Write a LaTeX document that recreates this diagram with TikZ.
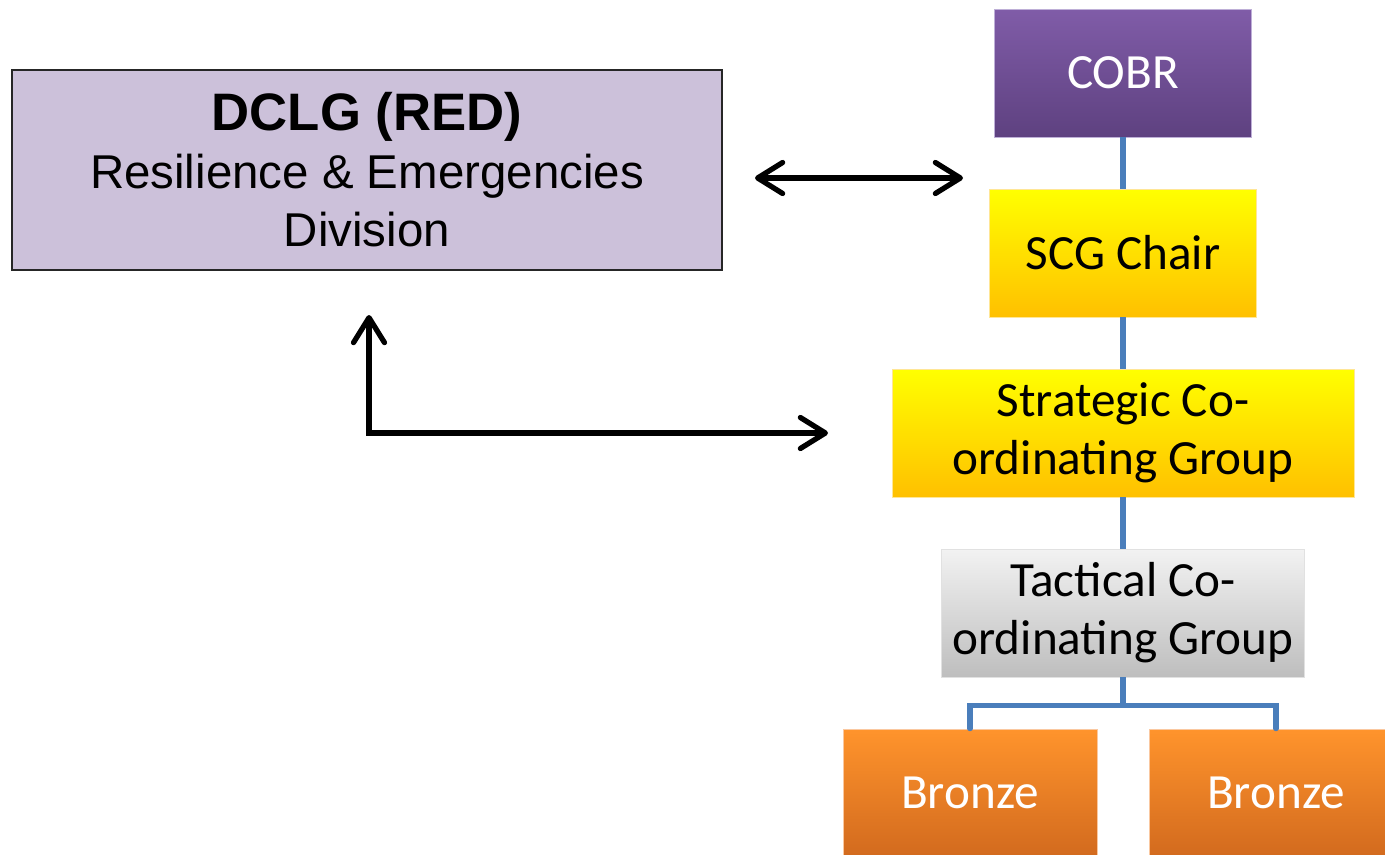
\documentclass[tikz,border=0pt]{standalone}
\usepackage{fontspec}
\setmainfont{Carlito}
\newfontfamily\arialfont{Liberation Sans}
\usetikzlibrary{arrows.meta}

\definecolor{redfill}{HTML}{CCC1DA}
\definecolor{linkblue}{HTML}{4A7EBB}
\definecolor{cobrtop}{RGB}{128,92,168}
\definecolor{cobrbot}{RGB}{94,65,128}
\definecolor{cobrline}{RGB}{190,175,215}
\definecolor{goldtop}{RGB}{255,255,0}
\definecolor{goldbot}{RGB}{255,192,0}
\definecolor{goldline}{RGB}{255,230,150}
\definecolor{greytop}{RGB}{242,242,242}
\definecolor{greybot}{RGB}{190,190,190}
\definecolor{greyline}{RGB}{225,225,225}
\definecolor{bronzetop}{RGB}{255,148,44}
\definecolor{bronzebot}{RGB}{210,106,30}
\definecolor{bronzeline}{RGB}{250,200,160}

\tikzset{
  level/.style={minimum height=2.56cm, inner sep=0pt, align=center,
    font=\fontsize{28}{33}\selectfont, line width=0.4pt},
  cobrbox/.style={level, minimum width=5.14cm, top color=cobrtop,
    bottom color=cobrbot, draw=cobrline, text=white},
  goldbox/.style={level, top color=goldtop, bottom color=goldbot, draw=goldline},
  greybox/.style={level, minimum width=7.26cm, top color=greytop,
    bottom color=greybot, draw=greyline},
  bronzebox/.style={level, minimum width=5.08cm, top color=bronzetop,
    bottom color=bronzebot, draw=bronzeline, text=white},
  link/.style={draw=linkblue, line width=2.9pt},
  bigarrow/.style={line width=3pt, line cap=round,
    {Straight Barb[length=0.5cm, width=0.62cm, line cap=round, line join=round]}-{Straight Barb[length=0.5cm, width=0.62cm, line cap=round, line join=round]}}
}

\begin{document}
\begin{tikzpicture}
\useasboundingbox (0,0) rectangle (27.7,-17.08);

\node[draw=black!85, line width=1pt, fill=redfill, minimum width=14.2cm, minimum height=4cm,
  align=center, font=\arialfont\fontsize{27}{33}\selectfont] (dclg) at (7.34,-3.4)
  {{\bfseries\fontsize{30}{33}\selectfont DCLG (RED)}\\Resilience \& Emergencies\\Division};

\node[cobrbox] (cobr) at (22.46,-1.46) {COBR};
\node[goldbox, minimum width=5.34cm] (scg) at (22.46,-5.06) {SCG Chair};
\node[goldbox, minimum width=9.24cm] (sco) at (22.46,-8.66) {Strategic Co-\\ordinating Group};
\node[greybox] (tcg) at (22.46,-12.26) {Tactical Co-\\ordinating Group};
\node[bronzebox] (bronzea) at (19.4,-15.86) {Bronze};
\node[bronzebox] (bronzeb) at (25.52,-15.86) {Bronze};

\draw[link] (cobr) -- (scg);
\draw[link] (scg) -- (sco);
\draw[link] (sco) -- (tcg);
\draw[link] (tcg.south) -- ++(0,-0.56) coordinate (fork);
\draw[link, line cap=round] (fork) -| (bronzea.north);
\draw[link, line cap=round] (fork) -| (bronzeb.north);

\coordinate (redright) at (15.1,-3.56);
\coordinate (cobrleft) at (19.26,-3.56);
\coordinate (redbelow) at (7.38,-6.3);
\coordinate (scoleft) at (16.56,-8.66);

\draw[bigarrow] (redright) -- (cobrleft);
\draw[bigarrow, line join=miter] (redbelow) |- (scoleft);
\end{tikzpicture}
\end{document}
